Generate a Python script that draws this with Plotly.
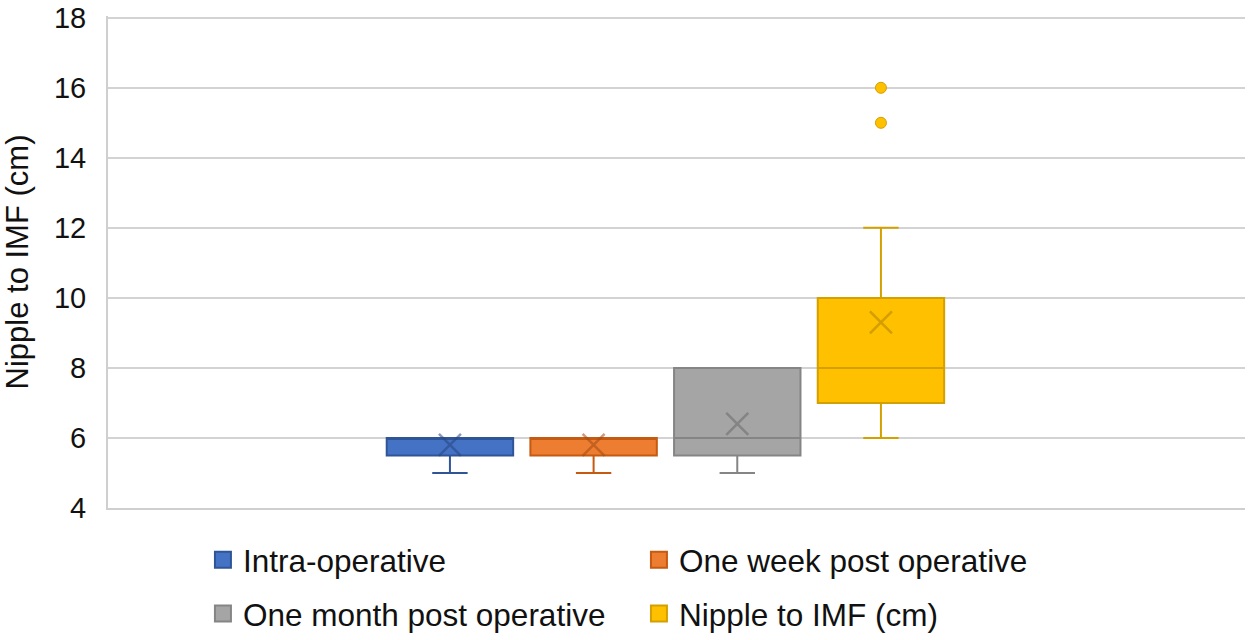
import plotly.graph_objects as go

# ---- data ----
series = ["Intra-operative", "One week post operative",
          "One month post operative", "Nipple to IMF (cm)"]
q1 = [5.5, 5.5, 5.5, 7]
median = [6, 6, 6, 8]
q3 = [6, 6, 8, 10]
lower_whisker = [5, 5, 5, 6]
upper_whisker = [6, 6, 8, 12]
means = [5.8, 5.8, 6.4, 9.3]
outliers = [[], [], [], [15, 16]]
y_ticks = [4, 6, 8, 10, 12, 14, 16, 18]

# ---- styles ----
fills = ["#4472C4", "#ED7D31", "#A5A5A5", "#FFC000"]
edges = ["#2F5597", "#C55A11", "#858585", "#D4A000"]
mean_cols = ["rgba(40,70,130,0.55)", "rgba(160,75,20,0.55)",
             "rgba(110,110,110,0.6)", "rgba(180,135,0,0.6)"]
legend_rows = ["legend", "legend", "legend2", "legend2"]
FONT = "Liberation Sans, Arial, sans-serif"

fig = go.Figure()

for i, name in enumerate(series):
    fig.add_trace(go.Box(
        x=[name], q1=[q1[i]], median=[median[i]], q3=[q3[i]],
        lowerfence=[lower_whisker[i]], upperfence=[upper_whisker[i]],
        name=name, showlegend=False, boxpoints=False,
        width=0.88, whiskerwidth=0.28,
        fillcolor=fills[i], line=dict(color=edges[i], width=2),
        hoverinfo="skip",
    ))
    fig.add_trace(go.Scatter(
        x=[name], y=[means[i]], mode="markers", showlegend=False,
        marker=dict(symbol="x-thin", size=22,
                    line=dict(color=mean_cols[i], width=2.5)),
        hoverinfo="skip",
    ))
    if outliers[i]:
        fig.add_trace(go.Scatter(
            x=[name] * len(outliers[i]), y=outliers[i], mode="markers",
            showlegend=False,
            marker=dict(symbol="circle", size=11, color=fills[i],
                        line=dict(color=edges[i], width=1)),
            hoverinfo="skip",
        ))

# legend entries (square swatches), two rows
for i, name in enumerate(series):
    fig.add_trace(go.Scatter(
        x=[None], y=[None], mode="markers", name=name, showlegend=True,
        legend=legend_rows[i],
        marker=dict(symbol="square", size=16, color=fills[i],
                    line=dict(color=edges[i], width=2)),
    ))

leg_common = dict(orientation="h", xanchor="left", yanchor="middle",
                  entrywidth=391, itemsizing="trace",
                  font=dict(size=31.5, family=FONT, color="#111111"),
                  bgcolor="rgba(0,0,0,0)")

fig.update_layout(
    width=1250, height=640,
    paper_bgcolor="white", plot_bgcolor="white",
    margin=dict(l=108, r=5, t=16, b=132, autoexpand=False),
    font=dict(family=FONT, color="#111111"),
    showlegend=True,
    legend=dict(x=0.0835, y=-0.105, **leg_common),
    legend2=dict(x=0.0835, y=-0.2146, **leg_common),
)

fig.update_xaxes(
    type="category", categoryorder="array", categoryarray=series,
    range=[-2.38, 5.534], showticklabels=False, showgrid=False,
    zeroline=False, showline=True, linecolor="#CFCFCF", linewidth=2,
    ticks="",
)
fig.update_yaxes(
    range=[4, 18.05], tickvals=y_ticks, ticktext=[str(v) for v in y_ticks],
    showgrid=True, gridcolor="#D3D3D3", gridwidth=2,
    zeroline=False, showline=True, linecolor="#CFCFCF", linewidth=2,
    ticks="", ticklabelstandoff=14, ticklabeloverflow="allow",
    tickfont=dict(size=29, family=FONT, color="#111111"),
    title=dict(text="Nipple to IMF (cm)", standoff=16,
               font=dict(size=31, family=FONT, color="#111111")),
)

fig.write_html("out.html", config={"displayModeBar": False},
               post_script="document.body.style.margin='0px';")
